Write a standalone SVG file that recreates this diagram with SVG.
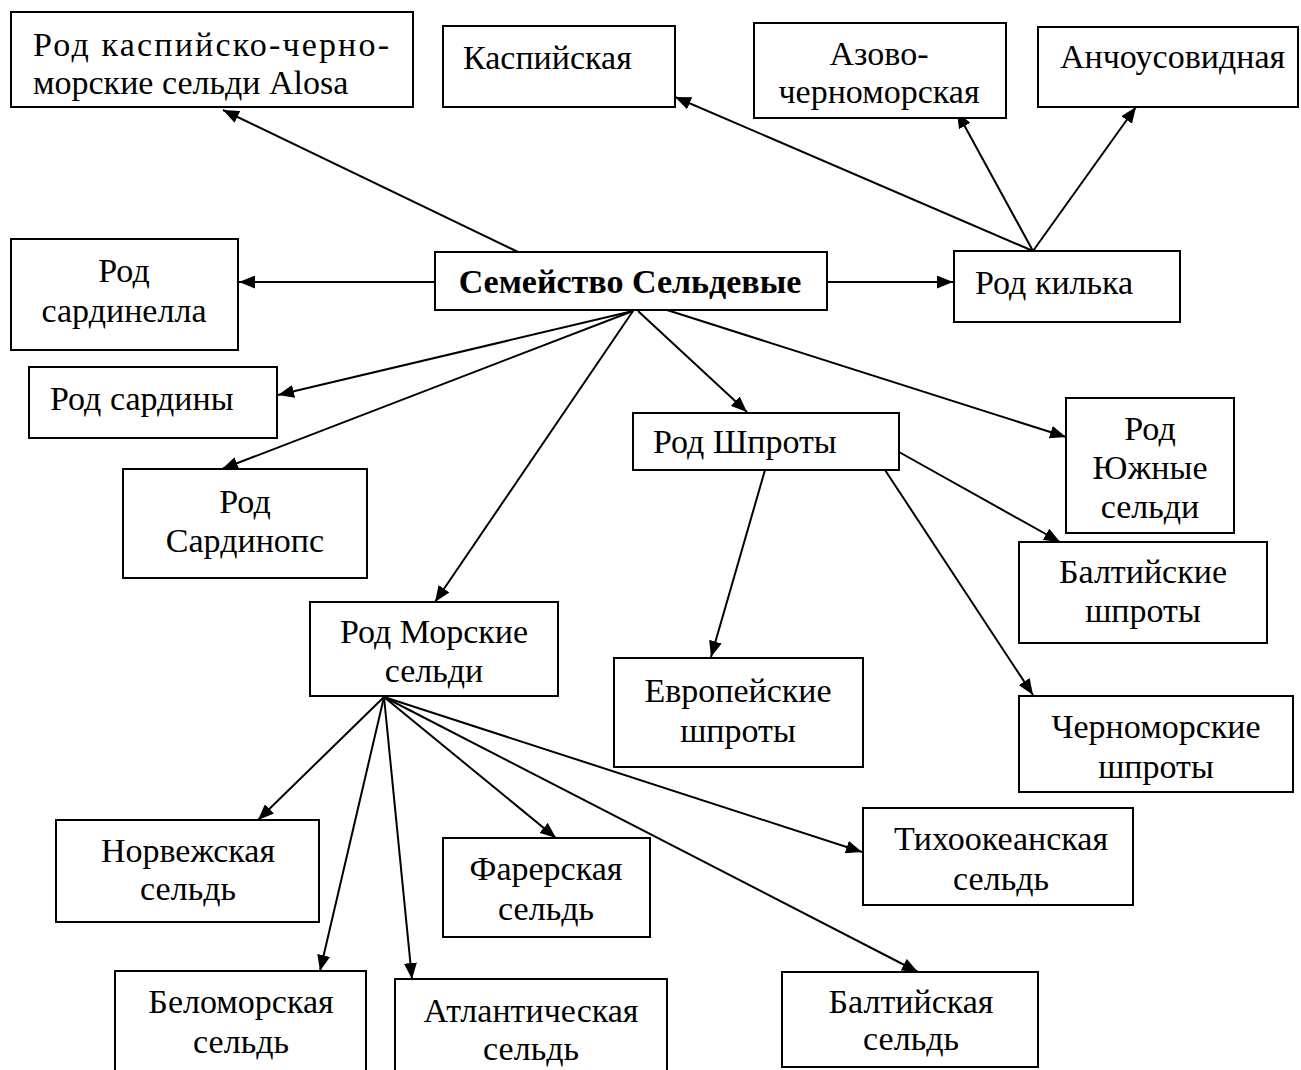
<svg xmlns="http://www.w3.org/2000/svg" width="1301" height="1070" viewBox="0 0 1301 1070">
<defs>
<marker id="ah" markerUnits="userSpaceOnUse" markerWidth="16" markerHeight="13" refX="16" refY="6.5" orient="auto">
<path d="M0,0 L16,6.5 L0,13 z" fill="#000"/>
</marker>
<style>
.box{fill:#fff;stroke:#000;stroke-width:2}
.t{font-family:"Liberation Serif","Times New Roman",serif;font-size:34px;fill:#000}
.c{text-anchor:middle}
.b{font-weight:bold}
.edge{stroke:#000;stroke-width:2;fill:none;marker-end:url(#ah)}
</style>
</defs>
<rect width="1301" height="1070" fill="#fff"/>

<g id="connectors">
<line class="edge" x1="518" y1="252" x2="223" y2="110"/>
<line class="edge" x1="435" y1="282" x2="239" y2="282"/>
<line class="edge" x1="827" y1="282" x2="953" y2="282"/>
<line class="edge" x1="1033" y1="251" x2="675" y2="97"/>
<line class="edge" x1="1033" y1="251" x2="957" y2="112"/>
<line class="edge" x1="1033" y1="251" x2="1136" y2="107"/>
<line class="edge" x1="633" y1="311" x2="278" y2="395"/>
<line class="edge" x1="633" y1="311" x2="222" y2="469"/>
<line class="edge" x1="633" y1="311" x2="435" y2="602"/>
<line class="edge" x1="638" y1="311" x2="747" y2="412"/>
<line class="edge" x1="667" y1="310" x2="1066" y2="437"/>
<line class="edge" x1="765" y1="470" x2="711" y2="657"/>
<line class="edge" x1="885" y1="470" x2="1033" y2="695"/>
<line class="edge" x1="899" y1="452" x2="1060" y2="542"/>
<line class="edge" x1="384" y1="697" x2="258" y2="820"/>
<line class="edge" x1="384" y1="697" x2="320" y2="971"/>
<line class="edge" x1="384" y1="697" x2="412" y2="979"/>
<line class="edge" x1="384" y1="697" x2="556" y2="838"/>
<line class="edge" x1="384" y1="697" x2="918" y2="972"/>
<line class="edge" x1="384" y1="697" x2="862" y2="852"/>
</g>

<g id="alosa"><rect class="box" x="11" y="12" width="402" height="95"/>
<text class="t" x="33" y="56" textLength="356" lengthAdjust="spacing">Род каспийско-черно-</text>
<text class="t" x="33" y="94">морские сельди Alosa</text></g>

<g id="kaspiyskaya"><rect class="box" x="443" y="26" width="232" height="81"/>
<text class="t" x="463" y="69">Каспийская</text></g>

<g id="azovo"><rect class="box" x="754" y="23" width="252" height="95"/>
<text class="t c" x="879" y="65">Азово-</text>
<text class="t c" x="879" y="103">черноморская</text></g>

<g id="anchous"><rect class="box" x="1038" y="27" width="260" height="80"/>
<text class="t" x="1060" y="68">Анчоусовидная</text></g>

<g id="sardinella"><rect class="box" x="11" y="239" width="227" height="111"/>
<text class="t c" x="124" y="282">Род</text>
<text class="t c" x="124" y="322">сардинелла</text></g>

<g id="family"><rect class="box" x="435" y="252" width="392" height="58"/>
<text class="t c b" x="630" y="293">Семейство Сельдевые</text></g>

<g id="kilka"><rect class="box" x="954" y="251" width="226" height="71"/>
<text class="t" x="975" y="294">Род килька</text></g>

<g id="sardiny"><rect class="box" x="29" y="367" width="248" height="71"/>
<text class="t" x="50" y="410">Род сардины</text></g>

<g id="sardinops"><rect class="box" x="123" y="469" width="244" height="109"/>
<text class="t c" x="245" y="513">Род</text>
<text class="t c" x="245" y="552">Сардинопс</text></g>

<g id="shproty"><rect class="box" x="633" y="413" width="266" height="57"/>
<text class="t" x="653" y="453">Род Шпроты</text></g>

<g id="yuzhnye"><rect class="box" x="1066" y="398" width="168" height="135"/>
<text class="t c" x="1150" y="440">Род</text>
<text class="t c" x="1150" y="479">Южные</text>
<text class="t c" x="1150" y="518">сельди</text></g>

<g id="baltic-sprats"><rect class="box" x="1019" y="542" width="248" height="101"/>
<text class="t c" x="1143" y="583">Балтийские</text>
<text class="t c" x="1143" y="622">шпроты</text></g>

<g id="morskie"><rect class="box" x="310" y="602" width="248" height="94"/>
<text class="t c" x="434" y="643">Род Морские</text>
<text class="t c" x="434" y="682">сельди</text></g>

<g id="european-sprats"><rect class="box" x="614" y="658" width="249" height="109"/>
<text class="t c" x="738" y="702">Европейские</text>
<text class="t c" x="738" y="742">шпроты</text></g>

<g id="blacksea-sprats"><rect class="box" x="1019" y="696" width="274" height="96"/>
<text class="t c" x="1156" y="738">Черноморские</text>
<text class="t c" x="1156" y="778">шпроты</text></g>

<g id="norwegian"><rect class="box" x="56" y="820" width="263" height="102"/>
<text class="t c" x="188" y="862">Норвежская</text>
<text class="t c" x="188" y="900">сельдь</text></g>

<g id="faroe"><rect class="box" x="443" y="838" width="207" height="99"/>
<text class="t c" x="546" y="880">Фарерская</text>
<text class="t c" x="546" y="920">сельдь</text></g>

<g id="pacific"><rect class="box" x="863" y="808" width="270" height="97"/>
<text class="t c" x="1001" y="850">Тихоокеанская</text>
<text class="t c" x="1001" y="890">сельдь</text></g>

<g id="whitesea"><rect class="box" x="115" y="971" width="251" height="110"/>
<text class="t c" x="241" y="1013">Беломорская</text>
<text class="t c" x="241" y="1053">сельдь</text></g>

<g id="atlantic"><rect class="box" x="395" y="979" width="272" height="100"/>
<text class="t c" x="531" y="1022">Атлантическая</text>
<text class="t c" x="531" y="1060">сельдь</text></g>

<g id="baltic-herring"><rect class="box" x="782" y="972" width="256" height="95"/>
<text class="t c" x="911" y="1013">Балтийская</text>
<text class="t c" x="911" y="1050">сельдь</text></g>
</svg>
